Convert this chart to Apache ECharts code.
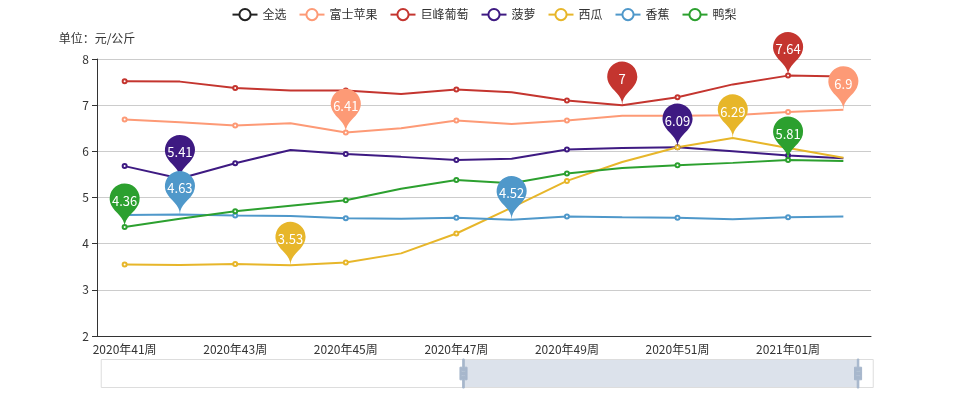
<!DOCTYPE html>
<html>
<head>
<meta charset="utf-8">
<script src="https://cdn.jsdelivr.net/npm/echarts@6/dist/echarts.min.js"></script>
<style>
    html, body { margin: 0; padding: 0; background: #fff; }
    #chart { width: 968px; height: 396px; }
</style>
</head>
<body>
<div id="chart"></div>
<script>
var weeks = ["2020年41周", "2020年42周", "2020年43周", "2020年44周", "2020年45周", "2020年46周", "2020年47周",
    "2020年48周", "2020年49周", "2020年50周", "2020年51周", "2020年52周", "2021年01周", "2021年02周"];

var apple = [6.69, 6.63, 6.56, 6.61, 6.41, 6.50, 6.67, 6.59, 6.67, 6.77, 6.77, 6.78, 6.85, 6.90];
var grape = [7.52, 7.51, 7.37, 7.32, 7.32, 7.24, 7.34, 7.28, 7.10, 7.00, 7.17, 7.45, 7.64, 7.62];
var pineapple = [5.68, 5.41, 5.74, 6.03, 5.94, 5.88, 5.81, 5.84, 6.04, 6.07, 6.09, 6.00, 5.91, 5.85];
var melon = [3.55, 3.54, 3.56, 3.53, 3.59, 3.79, 4.22, 4.78, 5.36, 5.77, 6.09, 6.29, 6.07, 5.86];
var banana = [4.62, 4.63, 4.61, 4.60, 4.55, 4.54, 4.56, 4.52, 4.59, 4.57, 4.56, 4.53, 4.57, 4.59];
var pear = [4.36, 4.54, 4.70, 4.82, 4.94, 5.19, 5.38, 5.31, 5.52, 5.64, 5.70, 5.75, 5.81, 5.79];

var names = ["全选", "富士苹果", "巨峰葡萄", "菠萝", "西瓜", "香蕉", "鸭梨"];
var colors = ["#222222", "#fd9a76", "#c4352f", "#3e1a82", "#e7b62a", "#4f98ca", "#2ca02f"];

var font = "'Noto Sans CJK SC', 'Microsoft YaHei', sans-serif";

function line(name, data) {
    return {
        name: name,
        type: "line",
        data: data,
        symbol: "emptyCircle",
        symbolSize: 4,
        showAllSymbol: false,
        lineStyle: { width: 2 },
        markPoint: {
            label: { color: "#fff", fontSize: 13, fontFamily: font },
            data: [{ type: "max" }, { type: "min" }]
        }
    };
}

var chart = echarts.init(document.getElementById("chart"));
chart.setOption({
    animation: false,
    color: colors,
    textStyle: { fontFamily: font },
    legend: {
        top: 3,
        itemGap: 12,
        itemStyle: { borderWidth: 1 },
        textStyle: { color: "#333", fontSize: 12 },
        data: names
    },
    grid: { left: 97, right: 97, top: 59, bottom: 60 },
    xAxis: [{
        type: "category",
        data: weeks,
        boundaryGap: true,
        axisLine: { lineStyle: { color: "#333" } },
        axisTick: { interval: 1, lineStyle: { color: "#333" } },
        axisLabel: { interval: 1, color: "#333", fontSize: 12, margin: 7 },
        splitLine: { show: false }
    }, {
        type: "value",
        show: false,
        min: 0,
        max: 100
    }],
    yAxis: {
        type: "value",
        min: 2,
        max: 8,
        interval: 1,
        name: "单位：元/公斤",
        nameTextStyle: { color: "#333", fontSize: 12 },
        axisLine: { show: true, lineStyle: { color: "#333" } },
        axisTick: { show: true, lineStyle: { color: "#333" } },
        axisLabel: { color: "#333", fontSize: 12 },
        splitLine: { lineStyle: { color: "#ccc" } }
    },
    dataZoom: [{
        type: "slider",
        xAxisIndex: 1,
        filterMode: "none",
        start: 46.8,
        end: 98.1,
        left: 100,
        right: 95,
        bottom: 8,
        height: 29,
        showDetail: false,
        showDataShadow: false,
        brushSelect: false,
        moveHandleSize: 0,
        borderColor: "#ddd",
        backgroundColor: "rgba(0,0,0,0)",
        fillerColor: "rgba(167,183,204,0.4)",
        handleIcon: "path://M8.2,13.6V3.9H6.3v9.7H3.1v14.9h3.3v9.7h1.8v-9.7h3.3V13.6H8.2z M9.7,24.4H4.8v-1.4h4.9V24.4z M9.7,19.1H4.8v-1.4h4.9V19.1z",
        handleSize: "100%",
        handleStyle: { color: "#a7b7cc", borderColor: "#a7b7cc" }
    }],
    series: [
        { name: "全选", type: "line", data: [], symbol: "emptyCircle" },
        line("富士苹果", apple),
        line("巨峰葡萄", grape),
        line("菠萝", pineapple),
        line("西瓜", melon),
        line("香蕉", banana),
        line("鸭梨", pear)
    ]
});
</script>
</body>
</html>
